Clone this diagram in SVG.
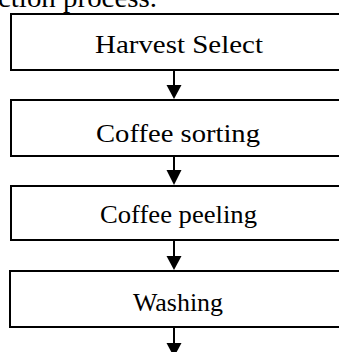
<svg xmlns="http://www.w3.org/2000/svg" width="339" height="352" viewBox="0 0 339 352">
<style>
.box{fill:#fff;stroke:#000;stroke-width:2}
.lbl{font-family:"Liberation Serif","Times New Roman",serif;font-size:26px;fill:#000;text-anchor:middle}
.cap{font-family:"Liberation Serif","Times New Roman",serif;font-size:27px;fill:#000}
.conn line{stroke:#000;stroke-width:2}
.conn polygon{fill:#000}
</style>
<rect width="339" height="352" fill="#fff"/>
<text class="cap" x="-2" y="7" textLength="159" lengthAdjust="spacingAndGlyphs">ction process.</text>
<g id="n1"><rect class="box" x="11" y="14" width="340" height="56"/><text class="lbl" x="179" y="53" textLength="168" lengthAdjust="spacingAndGlyphs">Harvest Select</text></g>
<g id="n2"><rect class="box" x="11" y="100" width="340" height="56"/><text class="lbl" x="178" y="141.5" textLength="164" lengthAdjust="spacingAndGlyphs">Coffee sorting</text></g>
<g id="n3"><rect class="box" x="11" y="186" width="340" height="54"/><text class="lbl" x="178.5" y="223" textLength="157" lengthAdjust="spacingAndGlyphs">Coffee peeling</text></g>
<g id="n4"><rect class="box" x="10" y="271" width="340" height="56"/><text class="lbl" x="178" y="311" textLength="90" lengthAdjust="spacingAndGlyphs">Washing</text></g>
<g id="connectors" class="conn">
<line x1="174" y1="71" x2="174" y2="86"/><polygon points="166.5,85 181.5,85 174,99"/>
<line x1="174" y1="157" x2="174" y2="171"/><polygon points="166.5,170 181.5,170 174,185"/>
<line x1="174" y1="241" x2="174" y2="257"/><polygon points="166.5,256 181.5,256 174,270"/>
<line x1="174" y1="328" x2="174" y2="344"/><polygon points="166.5,343 181.5,343 174,357"/>
</g>
</svg>
